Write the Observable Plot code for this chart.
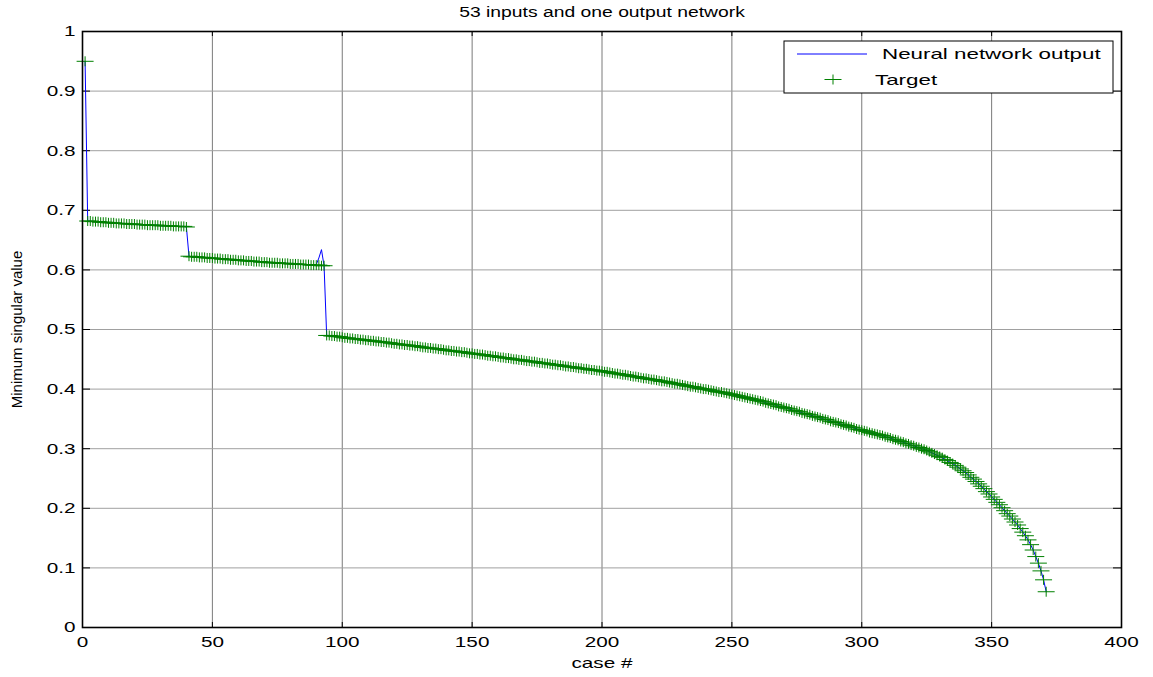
<!DOCTYPE html>
<html><head><meta charset="utf-8">
<script src="https://cdn.jsdelivr.net/npm/d3@7"></script>
<script src="https://cdn.jsdelivr.net/npm/@observablehq/plot@0.6"></script>
<style>
html,body{margin:0;padding:0;background:#fff;}
#chart svg{display:block;}
</style></head><body><div id="chart"></div>
<script>
const title = "53 inputs and one output network";
const xLabel = "case #";
const yLabel = "Minimum singular value";
const legendLabels = ["Neural network output", "Target"];
const xTicks = [0, 50, 100, 150, 200, 250, 300, 350, 400];
const yTicks = [0, 0.1, 0.2, 0.3, 0.4, 0.5, 0.6, 0.7, 0.8, 0.9, 1];

// target values per case (case 1 .. 371)
const targetFirst = [0.950];
const targetStage1 = [ // cases 2-40
  0.682,0.682,0.681,0.681,0.681,0.680,0.680,0.680,0.679,0.679,
  0.679,0.678,0.678,0.678,0.678,0.677,0.677,0.677,0.677,0.676,
  0.676,0.676,0.676,0.675,0.675,0.675,0.675,0.675,0.674,0.674,
  0.674,0.674,0.674,0.673,0.673,0.673,0.673,0.673,0.672];
const targetStage2 = [ // cases 41-93
  0.623,0.622,0.622,0.622,0.621,0.621,0.621,0.620,0.620,0.620,
  0.619,0.619,0.619,0.618,0.618,0.618,0.617,0.617,0.617,0.616,
  0.616,0.616,0.615,0.615,0.615,0.614,0.614,0.614,0.613,0.613,
  0.613,0.612,0.612,0.612,0.612,0.611,0.611,0.611,0.611,0.610,
  0.610,0.610,0.610,0.609,0.609,0.609,0.609,0.608,0.608,0.608,
  0.608,0.607,0.607];
const targetStage3 = [ // cases 94-371
  0.490,0.490,0.489,0.489,0.488,0.488,0.487,
  0.486,0.486,0.485,0.485,0.484,0.484,0.483,0.483,0.482,0.482,
  0.481,0.481,0.480,0.480,0.479,0.479,0.478,0.478,0.477,0.476,
  0.476,0.475,0.475,0.474,0.474,0.473,0.473,0.472,0.472,0.471,
  0.470,0.470,0.469,0.469,0.468,0.468,0.467,0.467,0.466,0.465,
  0.465,0.464,0.464,0.463,0.463,0.462,0.462,0.461,0.460,0.460,
  0.459,0.459,0.458,0.458,0.457,0.456,0.456,0.455,0.455,0.454,
  0.453,0.453,0.452,0.452,0.451,0.450,0.450,0.449,0.449,0.448,
  0.447,0.447,0.446,0.446,0.445,0.444,0.444,0.443,0.443,0.442,
  0.441,0.441,0.440,0.440,0.439,0.438,0.438,0.437,0.437,0.436,
  0.435,0.435,0.434,0.434,0.433,0.432,0.432,0.431,0.431,0.430,
  0.429,0.429,0.428,0.427,0.426,0.426,0.425,0.424,0.424,0.423,
  0.422,0.421,0.421,0.420,0.419,0.418,0.418,0.417,0.416,0.416,
  0.415,0.414,0.413,0.413,0.412,0.411,0.410,0.409,0.409,0.408,
  0.407,0.406,0.405,0.404,0.404,0.403,0.402,0.401,0.400,0.400,
  0.399,0.398,0.397,0.396,0.395,0.395,0.394,0.393,0.392,0.391,
  0.390,0.389,0.388,0.387,0.386,0.385,0.384,0.383,0.382,0.381,
  0.380,0.379,0.377,0.376,0.375,0.374,0.373,0.371,0.370,0.369,
  0.368,0.367,0.365,0.364,0.363,0.362,0.360,0.359,0.358,0.357,
  0.355,0.354,0.353,0.352,0.350,0.349,0.348,0.346,0.345,0.344,
  0.343,0.341,0.340,0.339,0.337,0.336,0.335,0.333,0.332,0.331,
  0.330,0.329,0.327,0.326,0.325,0.324,0.323,0.322,0.320,0.319,
  0.318,0.316,0.315,0.314,0.312,0.311,0.309,0.308,0.306,0.305,
  0.303,0.302,0.300,0.299,0.297,
  0.295,0.293,0.291,0.289,0.287,0.285,0.282,0.280,0.277,0.275,
  0.272,0.269,0.266,0.263,0.260,0.256,0.252,0.249,0.245,0.241,
  0.237,0.233,0.228,0.224,0.219,
  0.215,0.210,0.206,0.201,0.196,0.191,0.187,0.182,0.177,0.172,
  0.166,0.160,0.154,0.147,0.139,0.130,0.119,0.108,0.095,0.080,0.060];
// network output equals target except at these cases: [case, output]
const outputOverrides = [[90, 0.609], [91, 0.620], [92, 0.634], [93, 0.607]];

const target = [...targetFirst, ...targetStage1, ...targetStage2, ...targetStage3];
const data = target.map((t, i) => ({caseNo: i + 1, target: t, output: t}));
for (const [c, v] of outputOverrides) data[c - 1].output = v;

const W = 1153, H = 677, mL = 82, mR = 32, mT = 31, mB = 50;
const fw = W - mL - mR, fh = H - mT - mB;
const FONT = '"Liberation Sans", Arial, Helvetica, sans-serif';
const plusSymbol = {draw(ctx) { ctx.moveTo(-8.5, 0); ctx.lineTo(8.5, 0); ctx.moveTo(0, -5); ctx.lineTo(0, 5); }};
const fmt = d3.format("~g");

const chart = Plot.plot({
  width: W, height: H,
  marginLeft: mL, marginRight: mR, marginTop: mT, marginBottom: mB,
  style: {fontFamily: FONT, fontSize: "15px", color: "#000", background: "#fff", overflow: "visible"},
  x: {domain: [0, 400]},
  y: {domain: [0, 1]},
  marks: [
    Plot.gridX(xTicks, {stroke: "#7a7a7a", strokeOpacity: 1}),
    Plot.gridY(yTicks, {stroke: "#a0a0a0", strokeOpacity: 1}),
    Plot.tickY(yTicks, {y: d => d, insetRight: fw - 8, stroke: "#000"}),
    Plot.tickY(yTicks, {y: d => d, insetLeft: fw - 8, stroke: "#000"}),
    Plot.tickX(xTicks, {x: d => d, insetTop: fh - 5, stroke: "#000"}),
    Plot.tickX(xTicks, {x: d => d, insetBottom: fh - 5, stroke: "#000"}),
    Plot.axisX(xTicks, {anchor: "bottom", tickSize: 0, tickPadding: 9, tickFormat: fmt,
      label: xLabel, labelArrow: "none", labelAnchor: "center", labelOffset: 40}),
    Plot.axisY(yTicks, {anchor: "left", tickSize: 0, tickPadding: 7, tickFormat: fmt,
      label: yLabel, labelArrow: "none", labelAnchor: "center", labelOffset: 71}),
    Plot.line(data, {x: "caseNo", y: "output", stroke: "#0000ff", strokeWidth: 1}),
    Plot.dot(data, {x: "caseNo", y: "target", symbol: plusSymbol, stroke: "#008000", strokeWidth: 1, fill: "none"}),
    Plot.frame({stroke: "#000", strokeWidth: 1.6}),
    Plot.text([title], {frameAnchor: "top", dy: -24, fontSize: 14})
  ]
});
document.getElementById("chart").append(chart);

const svg = d3.select(chart);
// strip any automatic label arrows
svg.selectAll("text").each(function() {
  const t = this.textContent;
  if (/[\u2190-\u2193]/.test(t) && this.children.length === 0) this.textContent = t.replace(/\s*[\u2190-\u2193]\s*/g, "");
});

// horizontally widen glyphs to match reference proportions
svg.selectAll("text").each(function() {
  if (this.closest('[aria-label="y-axis label"]')) return;
  const L = this.getComputedTextLength();
  if (L > 0) { this.setAttribute("textLength", L * 1.38); this.setAttribute("lengthAdjust", "spacingAndGlyphs"); }
});

// legend
const lg = svg.append("g").attr("font-family", FONT).attr("font-size", 15).attr("text-anchor", "start");
lg.append("rect").attr("x", 784).attr("y", 41).attr("width", 329).attr("height", 52)
  .attr("fill", "#fff").attr("stroke", "#000").attr("stroke-width", 1);
lg.append("line").attr("x1", 797).attr("x2", 867).attr("y1", 54).attr("y2", 54)
  .attr("stroke", "#0000ff").attr("stroke-width", 1);
lg.append("text").attr("x", 882).attr("y", 54).attr("dy", "0.35em").text(legendLabels[0]);
lg.append("path").attr("d", d3.symbol(plusSymbol)()).attr("transform", "translate(833,79.5)")
  .attr("stroke", "#008000").attr("fill", "none");
lg.append("text").attr("x", 875).attr("y", 80).attr("dy", "0.35em").text(legendLabels[1]);
lg.selectAll("text").each(function() {
  const L = this.getComputedTextLength();
  if (L > 0) { this.setAttribute("textLength", L * 1.49); this.setAttribute("lengthAdjust", "spacingAndGlyphs"); }
});
</script></body></html>
